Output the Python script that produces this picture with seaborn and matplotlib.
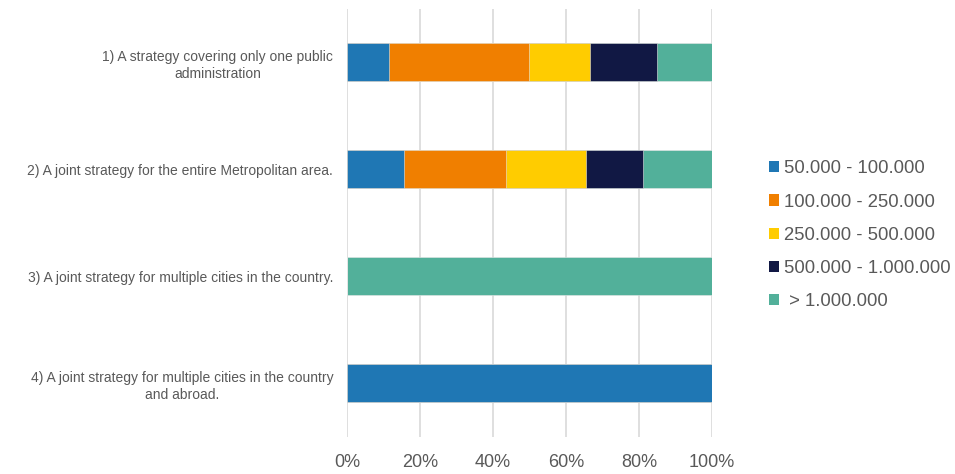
import matplotlib.pyplot as plt
import numpy as np
import pandas as pd
import seaborn as sns
from matplotlib.patches import Patch

categories = [
    "1) A strategy covering only one public\nadministration",
    "2) A joint strategy for the entire Metropolitan area.",
    "3) A joint strategy for multiple cities in the country.",
    "4) A joint strategy for multiple cities in the country\nand abroad.",
]
size_groups = ["50.000 - 100.000", "100.000 - 250.000", "250.000 - 500.000",
               "500.000 - 1.000.000", " > 1.000.000"]

# share of respondents (%) per size group, one list per category
small = [11.4, 15.6, 0.0, 100.0]
medium = [38.4, 28.1, 0.0, 0.0]
large = [16.7, 21.9, 0.0, 0.0]
very_large = [18.4, 15.6, 0.0, 0.0]
metro = [15.1, 18.8, 100.0, 0.0]

colors = ["#1F77B4", "#F07F00", "#FFCC00", "#111844", "#52B09A"]

df = pd.DataFrame({"category": categories, size_groups[0]: small, size_groups[1]: medium,
                   size_groups[2]: large, size_groups[3]: very_large, size_groups[4]: metro})

# cumulative sums so each segment can be drawn over the next one
cum = df[size_groups].cumsum(axis=1)

sns.set_style("white")
plt.rcParams['font.family'] = ['Liberation Sans', 'DejaVu Sans']

fig = plt.figure(figsize=(9.55, 4.74), dpi=100)
ax = fig.add_axes([0.3634, 0.079, 0.382, 0.903])

for grp, col in reversed(list(zip(size_groups, colors))):
    sns.barplot(x=cum[grp], y=df["category"], orient="h", color=col, width=0.35,
                saturation=1, ax=ax, edgecolor="#e6e6e6", linewidth=0.4, zorder=3)

ax.set_xlim(0, 100)
ax.set_xticks(np.arange(0, 101, 20))
ax.set_xticklabels([f"{v}%" for v in range(0, 101, 20)], fontsize=13, color="#595959")
ax.set_yticks(range(len(categories)))
ax.set_yticklabels(categories, fontsize=10, color="#595959", multialignment="center",
                   linespacing=1.3)
ax.tick_params(axis="y", length=0, pad=10)
ax.tick_params(axis="x", length=0, pad=12.5)
ax.set_xlabel("")
ax.set_ylabel("")
ax.grid(axis="x", color="#d9d9d9", linewidth=1.2, zorder=0)
ax.grid(axis="y", visible=False)
for s in ax.spines.values():
    s.set_visible(False)

handles = [Patch(facecolor=c, edgecolor="none") for c in colors]
fig.legend(handles, size_groups, loc="center left", bbox_to_anchor=(0.788, 0.504),
           frameon=False, fontsize=13.3, labelcolor="#595959", handlelength=0.55,
           handleheight=0.55, handletextpad=0.25, labelspacing=0.87)

plt.savefig("out.png", dpi=100)
plt.close()
